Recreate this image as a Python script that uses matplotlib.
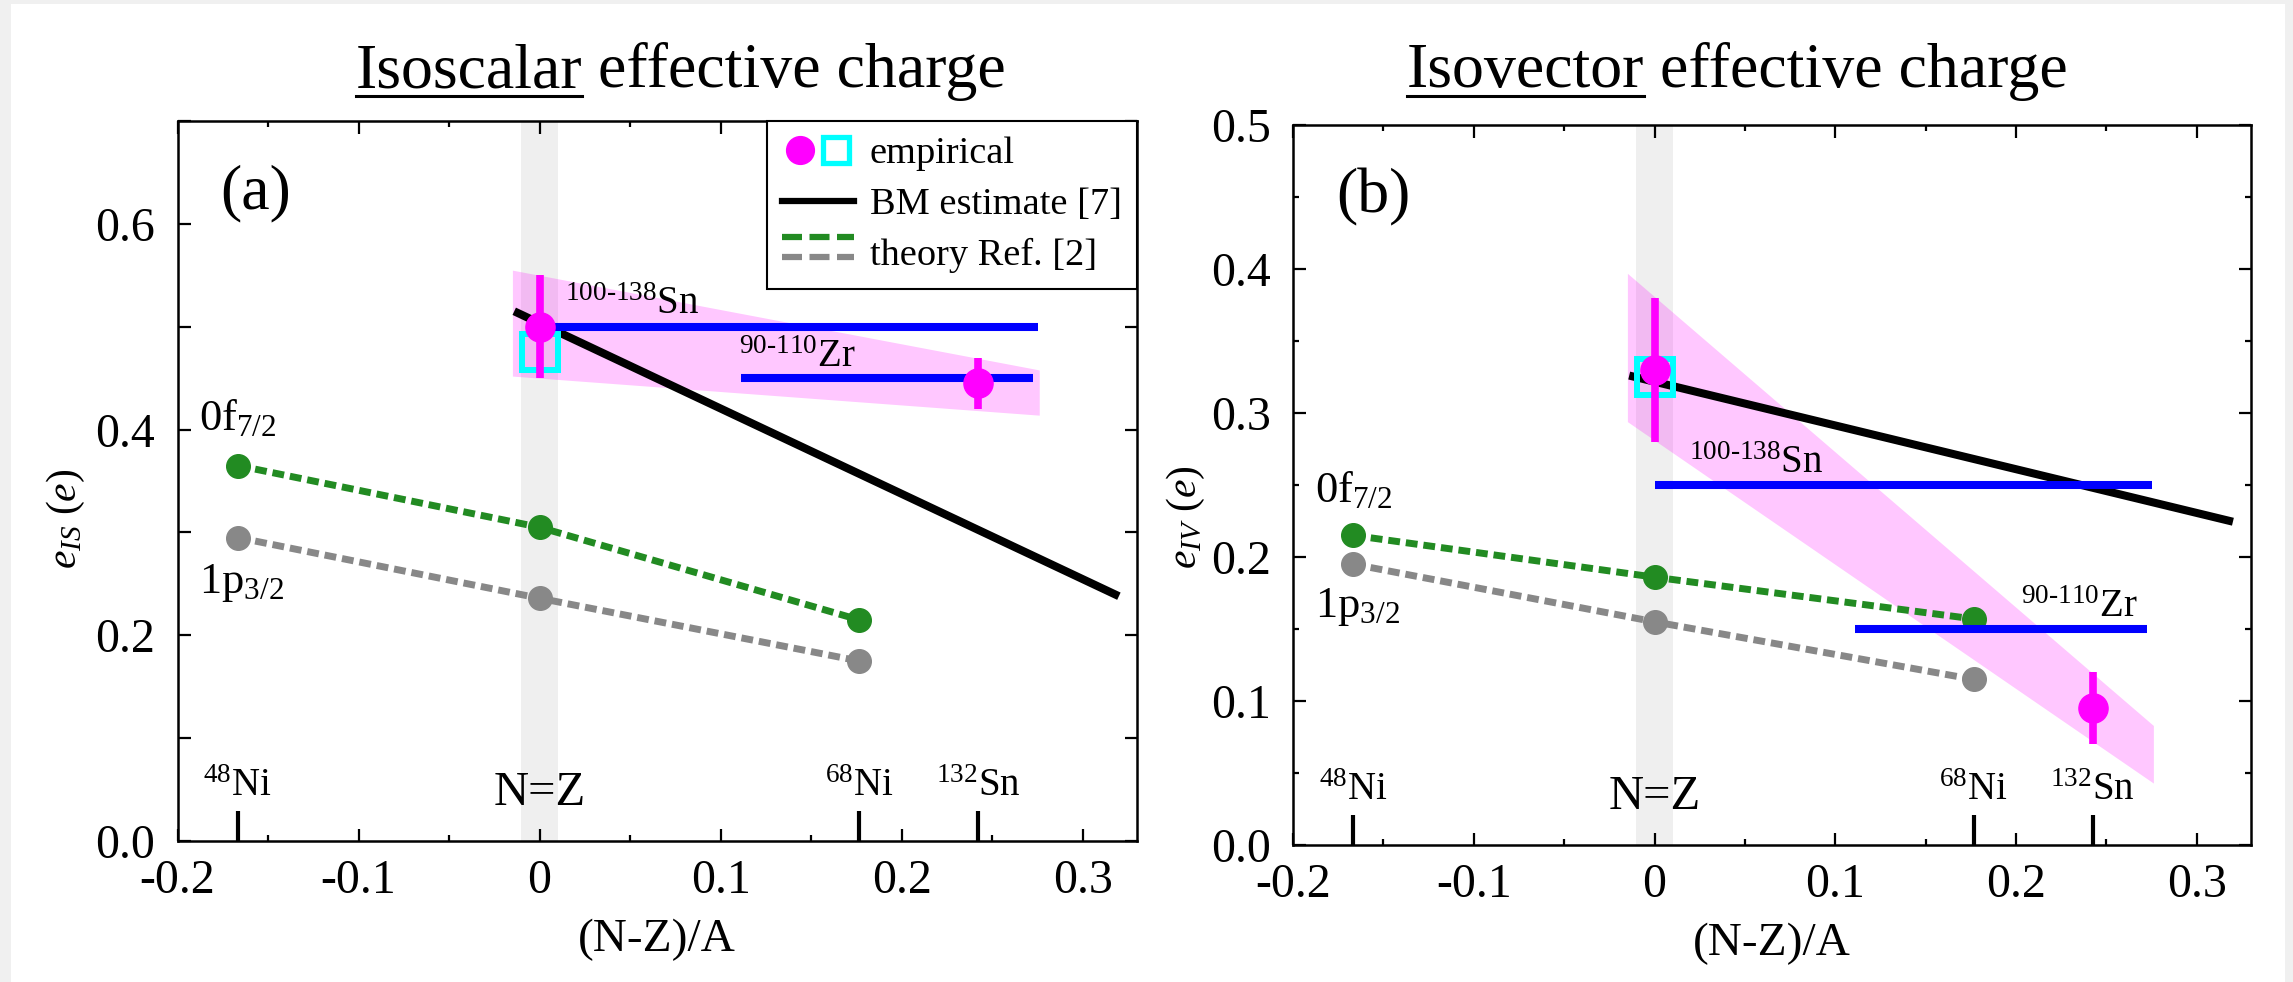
import matplotlib
matplotlib.use('Agg')
import matplotlib.pyplot as plt
from matplotlib.lines import Line2D
from matplotlib.patches import Rectangle
from matplotlib.legend_handler import HandlerTuple, HandlerBase
from matplotlib.ticker import MultipleLocator

plt.rcParams['font.family'] = ['Liberation Serif', 'DejaVu Serif']
plt.rcParams['mathtext.fontset'] = 'custom'
plt.rcParams['mathtext.rm'] = 'Liberation Serif'
plt.rcParams['mathtext.it'] = 'Liberation Serif:italic'
plt.rcParams['mathtext.bf'] = 'Liberation Serif:bold'

# ---------------- data ----------------
nuclei_x = [-0.1667, 0.1765, 0.2424]
nuclei_labels = [r'$^{48}$Ni', r'$^{68}$Ni', r'$^{132}$Sn']

theory_x = [-0.1667, 0.0, 0.1765]
is_f72 = [0.365, 0.305, 0.215]
is_p32 = [0.295, 0.236, 0.175]
iv_f72 = [0.215, 0.186, 0.157]
iv_p32 = [0.195, 0.155, 0.115]

emp_x = [0.0, 0.2424]
is_emp = [0.50, 0.445]
is_emp_err = [0.05, 0.025]
iv_emp = [0.33, 0.095]
iv_emp_err = [0.05, 0.025]

sq_x = [0.0]
is_sq = [0.475]
iv_sq = [0.325]

bm_x = [-0.014, 0.32]
is_bm = [0.515, 0.238]
iv_bm = [0.326, 0.2245]

band_x = [-0.015, 0.276]
is_band_lo = [0.452, 0.414]
is_band_hi = [0.555, 0.458]
iv_band_lo = [0.294, 0.043]
iv_band_hi = [0.397, 0.083]

sn_range = [0.0, 0.2754]
zr_range = [0.1111, 0.2727]
is_sn, is_zr = 0.50, 0.45
iv_sn, iv_zr = 0.25, 0.15

# ---------------- figure ----------------
W, H = 2293, 982
fig = plt.figure(figsize=(W / 100, H / 100), dpi=100)
fig.patch.set_facecolor('#f0f0f0')
fig.add_artist(Rectangle((11 / W, 0), (2285 - 11) / W, (H - 4) / H,
                         transform=fig.transFigure, facecolor='white',
                         edgecolor='none', zorder=-10))

ax_a = fig.add_axes([177.5 / W, 141 / H, 959.5 / W, 720 / H])
ax_b = fig.add_axes([1293 / W, 137 / H, 958 / W, 720 / H])

GREEN = '#228b22'
GRAY = '#888888'
MAG = '#ff00ff'
CYAN = '#00ffff'
BLUE = '#0000ff'
TICK_FS = 34.5
DASH = (0, (1.7, 0.85))


def draw_panel(ax, f72, p32, emp, emp_err, sq, bm, blo, bhi, sn, zr,
               ymax, ymajor, yminor, yminor_len, ylabel, panel,
               lab_f72_y, lab_p32_y, sn_lab, zr_lab):
    ax.set_xlim(-0.2, 0.33)
    ax.set_ylim(0, ymax)
    ax.axvspan(-0.01, 0.01, color='#efefef', zorder=0, lw=0)
    ax.fill_between(band_x, blo, bhi, color=MAG, alpha=0.22, lw=0, zorder=1)
    ax.plot(bm_x, bm, color='k', lw=5.8, solid_capstyle='butt', zorder=3)
    ax.plot(theory_x, f72, color=GREEN, lw=5, ls=DASH,
            dash_capstyle='butt', marker='o', ms=17, zorder=4)
    ax.plot(theory_x, p32, color=GRAY, lw=5, ls=DASH,
            dash_capstyle='butt', marker='o', ms=17, zorder=4)
    ax.hlines([sn, zr], [sn_range[0], zr_range[0]], [sn_range[1], zr_range[1]],
              color=BLUE, lw=5.8, zorder=5)
    ax.plot(sq_x, sq, ls='none', marker='s', ms=26, mfc='none', mec=CYAN,
            mew=4.3, zorder=6)
    ax.errorbar(emp_x, emp, yerr=emp_err, fmt='o', color=MAG, ms=21,
                elinewidth=5.5, capsize=0, zorder=7)

    # nucleus ticks and labels
    ax.vlines(nuclei_x, 0, 0.042, transform=ax.get_xaxis_transform(),
              color='k', lw=3, zorder=8)
    for xv, lab in zip(nuclei_x, nuclei_labels):
        ax.text(xv, 0.062, lab, transform=ax.get_xaxis_transform(),
                ha='center', va='baseline', fontsize=28)
    ax.text(0.0, 0.05, 'N=Z', transform=ax.get_xaxis_transform(),
            ha='center', va='baseline', fontsize=35)

    ax.text(-0.188, lab_f72_y, r'0f$_{7/2}$', fontsize=32, va='baseline')
    ax.text(-0.188, lab_p32_y, r'1p$_{3/2}$', fontsize=32, va='baseline')
    ax.text(sn_lab[0], sn_lab[1], r'$^{100\text{-}138}$Sn', fontsize=28,
            va='baseline')
    ax.text(zr_lab[0], zr_lab[1], r'$^{90\text{-}110}$Zr', fontsize=28,
            va='baseline')
    ax.text(0.045, 0.878, panel, transform=ax.transAxes, fontsize=46,
            va='baseline')

    # axes style
    ax.xaxis.set_major_locator(MultipleLocator(0.1))
    ax.xaxis.set_minor_locator(MultipleLocator(0.05))
    ax.yaxis.set_major_locator(MultipleLocator(ymajor))
    ax.yaxis.set_minor_locator(MultipleLocator(yminor))
    ax.tick_params(which='both', direction='in', top=True, right=True,
                   width=1.6, labelsize=TICK_FS)
    ax.tick_params(axis='x', which='major', length=9, pad=13)
    ax.tick_params(axis='x', which='minor', length=4.5)
    ax.tick_params(axis='y', which='major', length=9, pad=16)
    ax.tick_params(axis='y', which='minor', length=yminor_len)
    ax.xaxis.set_major_formatter(plt.FuncFormatter(
        lambda v, p: ('0' if abs(v) < 1e-9 else '%.1f' % v)))
    ax.yaxis.set_major_formatter(plt.FuncFormatter(lambda v, p: '%.1f' % v))
    for s in ax.spines.values():
        s.set_linewidth(1.8)
    ax.set_xlabel('(N-Z)/A', fontsize=34)
    ax.xaxis.set_label_coords(0.5, -0.108)
    ax.set_ylabel(ylabel, fontsize=30)


draw_panel(ax_a, is_f72, is_p32, is_emp, is_emp_err, is_sq, is_bm,
           is_band_lo, is_band_hi, is_sn, is_zr,
           0.7, 0.2, 0.1, 9, r'$e_{IS}$ $(e)$', '(a)',
           0.40, 0.241, (0.014, 0.512), (0.110, 0.461))
ax_a.yaxis.set_label_coords(-0.094, 0.448)

draw_panel(ax_b, iv_f72, iv_p32, iv_emp, iv_emp_err, iv_sq, iv_bm,
           iv_band_lo, iv_band_hi, iv_sn, iv_zr,
           0.5, 0.1, 0.05, 4.5, r'$e_{IV}$ $(e)$', '(b)',
           0.238, 0.1585, (0.019, 0.258), (0.2025, 0.1585))
ax_b.yaxis.set_label_coords(-0.090, 0.455)


# ---------------- legend (panel a) ----------------
class HandlerStack(HandlerBase):
    """Draw a tuple of line handles stacked vertically."""

    def create_artists(self, legend, orig_handle, xdescent, ydescent,
                       width, height, fontsize, trans):
        arts = []
        for h, f in zip(orig_handle, [1.05, 0.3]):
            ln = Line2D([-xdescent, -xdescent + width],
                        [height * f - ydescent] * 2)
            ln.update_from(h)
            ln.set_transform(trans)
            arts.append(ln)
        return arts


h_circ = Line2D([], [], ls='none', marker='o', ms=20, color=MAG)
h_sq = Line2D([], [], ls='none', marker='s', ms=18.5, mfc='none', mec=CYAN,
              mew=3.8)
h_bm = Line2D([], [], color='k', lw=4.5)
h_g = Line2D([], [], color=GREEN, lw=4.5, ls=(0, (3.2, 1.2)),
             dash_capstyle='butt')
h_k = Line2D([], [], color=GRAY, lw=4.5, ls=(0, (3.2, 1.2)),
             dash_capstyle='butt')

leg = ax_a.legend([(h_circ, h_sq), h_bm, (h_g, h_k)],
                  ['empirical', 'BM estimate [7]', 'theory Ref. [2]'],
                  handler_map={(h_circ, h_sq): HandlerTuple(ndivide=None, pad=0.0),
                               (h_g, h_k): HandlerStack()},
                  loc='upper right', bbox_to_anchor=(1, 1), borderaxespad=0,
                  fontsize=27.6, handlelength=1.88, handletextpad=0.4,
                  borderpad=0.4, labelspacing=0.42, fancybox=False,
                  framealpha=1, edgecolor='k')
leg.get_frame().set_linewidth(1.5)
leg.set_zorder(10)

# ---------------- titles with underline ----------------
renderer = fig.canvas.get_renderer()


def underlined_title(x_px, word, rest):
    yb = 1 - 87 / H
    t1 = fig.text(x_px / W, yb, word, fontsize=46, va='baseline', ha='left')
    bb = t1.get_window_extent(renderer=renderer)
    fig.text((bb.x1 + 0.25 * 64) / W, yb, rest, fontsize=46, va='baseline',
             ha='left')
    yu = 1 - 96 / H
    fig.add_artist(Line2D([bb.x0 / W, bb.x1 / W], [yu, yu],
                          transform=fig.transFigure, color='k', lw=2.2))


underlined_title(355.7, 'Isoscalar', 'effective charge')
underlined_title(1406.6, 'Isovector', 'effective charge')

fig.savefig('out.png', dpi=100, facecolor=fig.get_facecolor())
